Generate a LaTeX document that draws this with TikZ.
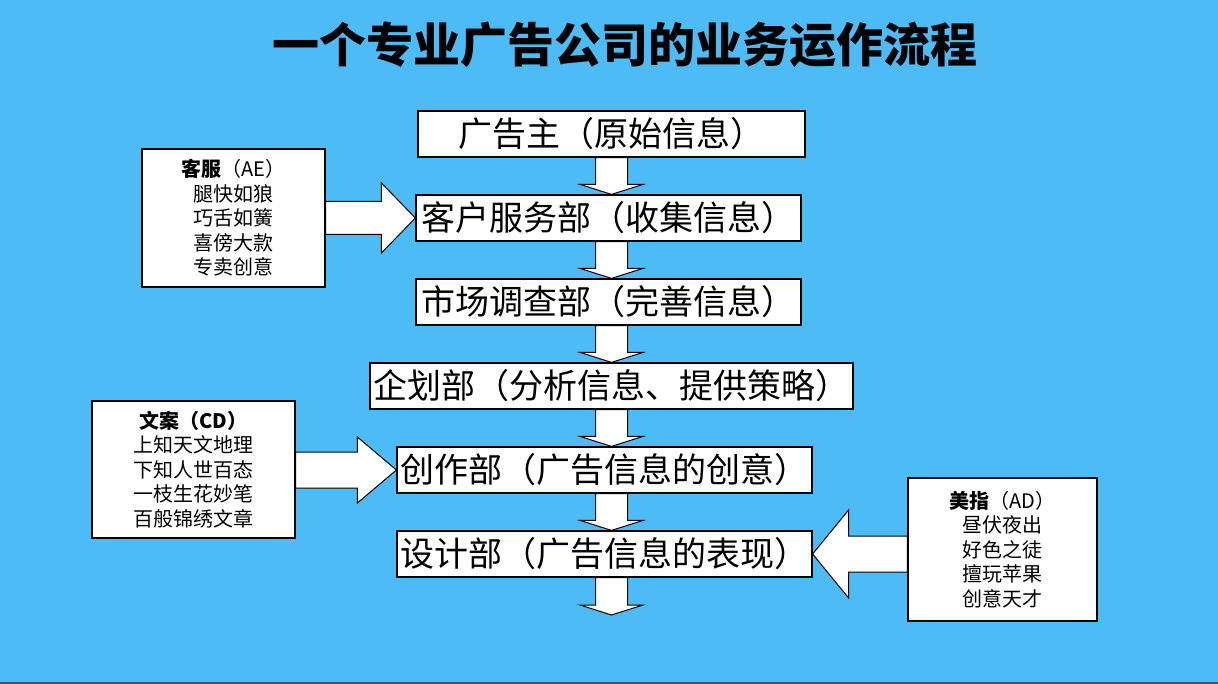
\documentclass[tikz,border=0pt]{standalone}
\usepackage{fontspec}
\setmainfont{Noto Sans CJK SC}
\usetikzlibrary{calc}
\definecolor{bg}{RGB}{77,187,245}
\definecolor{bottomline}{RGB}{50,90,120}
\begin{document}
\begin{tikzpicture}[x=1pt,y=-1pt,
  mainbox/.style={draw=black, line width=1.2pt, fill=white, inner sep=0pt, minimum height=46pt, font=\fontsize{34}{34}\selectfont},
  sidebox/.style={draw=black, line width=1.2pt, fill=white, inner sep=0pt, align=center, font=\fontsize{20}{24.5}\selectfont},
  blockarrow/.style={draw=black, line width=1pt, fill=white, line join=miter}]
\fill[bg] (0,0) rectangle (1218,684);
\useasboundingbox (0,0) rectangle (1218,684);
\draw[line width=1.5pt, bottomline] (0,683.2) -- (1218,683.2);

\node[font=\fontsize{47}{47}\selectfont\bfseries] (title) at (625,45) {一个专业广告公司的业务运作流程};

\node[mainbox, minimum width=387pt] (b1) at (611.5,134) {广告主（原始信息）};
\node[mainbox, minimum width=385pt] (b2) at (608.5,218) {客户服务部（收集信息）};
\node[mainbox, minimum width=385pt] (b3) at (608.5,302) {市场调查部（完善信息）};
\node[mainbox, minimum width=483pt] (b4) at (611.5,386) {企划部（分析信息、提供策略）};
\node[mainbox, minimum width=415pt] (b5) at (604.5,470) {创作部（广告信息的创意）};
\node[mainbox, minimum width=415pt] (b6) at (604.5,554) {设计部（广告信息的表现）};
\coordinate (endpt) at (611.5,615);

\node[sidebox, minimum width=183pt, minimum height=138pt] (s1) at (233.5,218)
  {{\bfseries 客服}（AE）\\腿快如狼\\巧舌如簧\\喜傍大款\\专卖创意};
\node[sidebox, minimum width=203pt, minimum height=137pt] (s2) at (193.5,469.5)
  {{\bfseries 文案（CD）}\\上知天文地理\\下知人世百态\\一枝生花妙笔\\百般锦绣文章};
\node[sidebox, minimum width=189pt, minimum height=143pt] (s3) at (1002.5,549.5)
  {{\bfseries 美指}（AD）\\昼伏夜出\\好色之徒\\擅玩苹果\\创意天才};

\newcommand\dnarrow[2]{%
  \draw[blockarrow] ($(595.5,0 |- #1)$) -- ($(627.5,0 |- #1)$)
    -- ($(627.5,0 |- #2)+(0,-10)$) -- ($(643,0 |- #2)+(0,-10)$)
    -- ($(611.5,0 |- #2)$) -- ($(580,0 |- #2)+(0,-10)$)
    -- ($(595.5,0 |- #2)+(0,-10)$) -- cycle;}
\dnarrow{b1.south}{b2.north}
\dnarrow{b2.south}{b3.north}
\dnarrow{b3.south}{b4.north}
\dnarrow{b4.south}{b5.north}
\dnarrow{b5.south}{b6.north}
\dnarrow{b6.south}{endpt}

% side arrows
\draw[blockarrow] ($(s1.east |- b2.west)+(0,-16.5)$) -- ($(b2.west)+(-34,-16.5)$)
  -- ($(b2.west)+(-34,-35)$) -- (b2.west) -- ($(b2.west)+(-34,35)$)
  -- ($(b2.west)+(-34,16.5)$) -- ($(s1.east |- b2.west)+(0,16.5)$) -- cycle;
\draw[blockarrow] ($(s2.east |- b5.west)+(0,-18)$) -- ($(b5.west)+(-39,-18)$)
  -- ($(b5.west)+(-39,-33)$) -- (b5.west) -- ($(b5.west)+(-39,33)$)
  -- ($(b5.west)+(-39,18)$) -- ($(s2.east |- b5.west)+(0,18)$) -- cycle;
\draw[blockarrow] ($(s3.west |- b6.east)+(0,-18)$) -- ($(b6.east)+(36,-18)$)
  -- ($(b6.east)+(36,-44)$) -- (b6.east) -- ($(b6.east)+(36,44)$)
  -- ($(b6.east)+(36,18)$) -- ($(s3.west |- b6.east)+(0,18)$) -- cycle;
\end{tikzpicture}
\end{document}
